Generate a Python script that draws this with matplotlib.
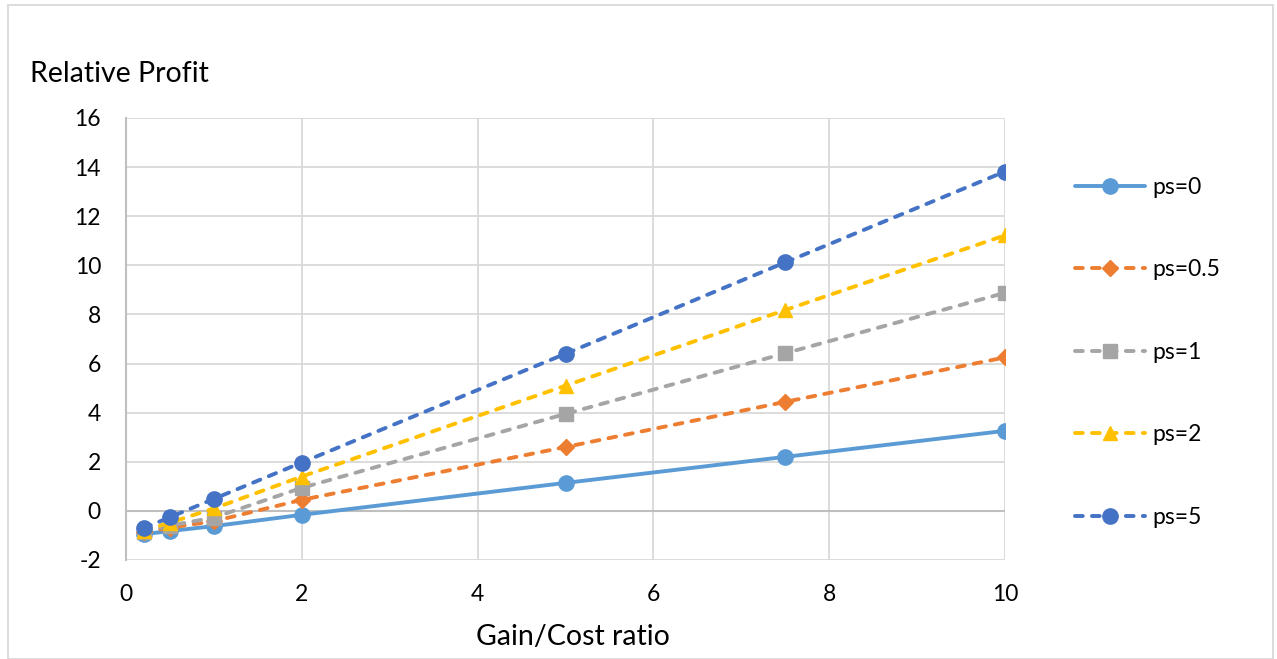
import matplotlib
matplotlib.use("Agg")
import matplotlib.pyplot as plt
from matplotlib.patches import Rectangle

plt.rcParams['font.family'] = ['Lato', 'DejaVu Sans']
plt.rcParams['lines.scale_dashes'] = False
plt.rcParams['axes.unicode_minus'] = False

x_ratio = [0.2, 0.5, 1, 2, 5, 7.5, 10]
series_labels = ["ps=0", "ps=0.5", "ps=1", "ps=2", "ps=5"]
ps0 = [-0.95, -0.82, -0.62, -0.16, 1.14, 2.2, 3.26]
ps05 = [-0.88, -0.68, -0.42, 0.45, 2.6, 4.44, 6.25]
ps1 = [-0.85, -0.6, -0.27, 0.94, 3.95, 6.42, 8.88]
ps2 = [-0.8, -0.48, 0.1, 1.4, 5.1, 8.18, 11.22]
ps5 = [-0.7, -0.26, 0.49, 1.97, 6.4, 10.12, 13.82]
series_values = [ps0, ps05, ps1, ps2, ps5]
x_ticks = [0, 2, 4, 6, 8, 10]
y_ticks = [-2, 0, 2, 4, 6, 8, 10, 12, 14, 16]

colors = ["#5B9BD5", "#ED7D31", "#A5A5A5", "#FFC000", "#4472C4"]
markers = ["o", "D", "s", "^", "o"]
msizes = [11, 8.5, 10, 10.5, 11]

W, H = 1277, 659
fig = plt.figure(figsize=(W / 100, H / 100), dpi=100)
ax = fig.add_axes([126 / W, 1 - 560 / H, (1005 - 126) / W, (560 - 118) / H])

for i, (vals, lab) in enumerate(zip(series_values, series_labels)):
    style = dict(color=colors[i], lw=2.8, marker=markers[i], ms=msizes[i],
                 markeredgecolor=colors[i], label=lab, zorder=3 + i)
    if i == 0:
        ax.plot(x_ratio, vals, ls='-', solid_capstyle='round', **style)
    else:
        ax.plot(x_ratio, vals, ls=(0, (5.6, 6.6)), dash_capstyle='round', **style)

ax.set_xlim(0, 10)
ax.set_ylim(-2, 16)
ax.set_xticks(x_ticks)
ax.set_yticks(y_ticks)
ax.grid(True, color="#D9D9D9", lw=1.3, zorder=0)
ax.axhline(0, color="#BFBFBF", lw=1.5, zorder=1)
for s in ['top', 'right', 'bottom']:
    ax.spines[s].set_visible(False)
ax.spines['left'].set_color("#BFBFBF")
ax.spines['left'].set_linewidth(1.5)
ax.tick_params(length=0, labelsize=16.5, colors="black")
ax.tick_params(axis='x', pad=17)
ax.tick_params(axis='y', pad=18)
ax.set_axisbelow(True)

fig.text(30 / W, 1 - 82 / H, "Relative Profit", fontsize=20.5, ha='left', va='baseline')
fig.text(573 / W, 1 - 645 / H, "Gain/Cost ratio", fontsize=20.5, ha='center', va='baseline')

leg = ax.legend(loc='upper left', bbox_to_anchor=(1075 / W, 1 - 177 / H),
                bbox_transform=fig.transFigure, frameon=False, fontsize=16.5,
                handlelength=3.06, handletextpad=0.3, labelspacing=2.68,
                borderpad=0, borderaxespad=0)

fig.patches.append(Rectangle((8 / W, 0), (1273 - 8) / W, 1 - 5 / H,
                             transform=fig.transFigure, fill=False,
                             edgecolor="#D9D9D9", lw=1.3))

fig.savefig("out.png", dpi=100)
